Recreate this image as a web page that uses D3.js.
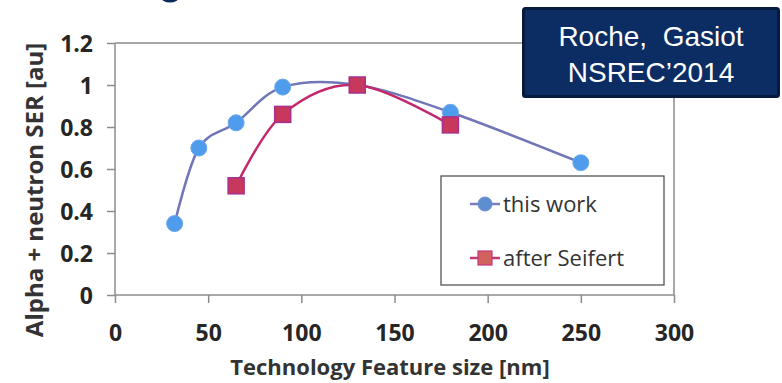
<!DOCTYPE html>
<html><head><meta charset="utf-8">
<script src="https://cdn.jsdelivr.net/npm/d3@7/dist/d3.min.js"></script>
<style>body{margin:0;background:#fff;}svg{display:block;}</style>
</head><body>
<svg id="c" width="782" height="383"></svg>
<script>
// ---- data ----
const thisWorkX = [32, 45, 65, 90, 130, 180, 250];
const thisWorkY = [0.34, 0.70, 0.82, 0.99, 1.00, 0.87, 0.63];
const seifertX = [65, 90, 130, 180];
const seifertY = [0.52, 0.86, 1.00, 0.81];
const xTicks = [0, 50, 100, 150, 200, 250, 300];
const yTicks = [0, 0.2, 0.4, 0.6, 0.8, 1, 1.2];
const seriesNames = ["this work", "after Seifert"];
const xTitle = "Technology Feature size [nm]";
const yTitle = "Alpha + neutron SER [au]";
const noteLines = ["Roche,  Gasiot", "NSREC\u20192014"];

const svg = d3.select("#c");
const L = 115, R = 674, T = 43, B = 295;
const x = d3.scaleLinear().domain([0, 300]).range([L, R]);
const y = d3.scaleLinear().domain([0, 1.2]).range([B, T]);
const axisColor = "#8c8c8c";
const tickFont = "'Open Sans', 'DejaVu Sans', sans-serif";

// cropped title fragment at top
svg.append("ellipse").attr("cx", 170).attr("cy", -3).attr("rx", 9).attr("ry", 5.5).attr("fill", "#0b2a5c");

// plot frame (top + right)
svg.append("path").attr("d", `M${L},${T}H${R}V${B}`).attr("fill", "none").attr("stroke", axisColor).attr("stroke-width", 1.5);

// axes
const xAxis = d3.axisBottom(x).tickValues(xTicks).tickSize(8).tickFormat(d3.format("d"));
const gx = svg.append("g").attr("transform", `translate(0,${B})`).call(xAxis);
const yAxis = d3.axisLeft(y).tickValues(yTicks).tickSize(8).tickFormat(d => d === 0 ? "0" : (d === 1 ? "1" : d3.format(".1f")(d)));
const gy = svg.append("g").attr("transform", `translate(${L},0)`).call(yAxis);
[gx, gy].forEach(g => {
  g.select(".domain").attr("stroke", axisColor).attr("stroke-width", 1.5);
  g.selectAll(".tick line").attr("stroke", axisColor).attr("stroke-width", 1.5);
  g.selectAll(".tick text").attr("fill", "#262626").attr("font-family", tickFont)
    .attr("font-weight", "bold").attr("font-size", 23);
});
gx.select(".domain").attr("d", `M${L},0H${R}`);
gy.select(".domain").attr("d", `M0,${T}V${B}`);
gx.selectAll(".tick text").attr("dy", null).attr("y", 46);
gy.selectAll(".tick text").attr("x", -22).attr("dy", "0.36em");

// axis titles
svg.append("text").attr("x", 390).attr("y", 375).attr("text-anchor", "middle")
  .attr("font-family", tickFont).attr("font-weight", "bold").attr("font-size", 22).attr("fill", "#333")
  .text(xTitle);
svg.append("text").attr("transform", "translate(43,190) rotate(-90)").attr("text-anchor", "middle")
  .attr("font-family", tickFont).attr("font-weight", "bold").attr("font-size", 24).attr("fill", "#333")
  .text(yTitle);

// series
const line = d3.line().x(d => x(d[0])).y(d => y(d[1])).curve(d3.curveCardinal.tension(0));
const blueData = thisWorkX.map((v, i) => [v, thisWorkY[i]]);
const redData = seifertX.map((v, i) => [v, seifertY[i]]);
svg.append("path").attr("d", line(blueData)).attr("fill", "none").attr("stroke", "#7176b8").attr("stroke-width", 2.5);
svg.append("path").attr("d", line(redData)).attr("fill", "none").attr("stroke", "#c3286c").attr("stroke-width", 2.5);

svg.append("g").selectAll("circle").data(blueData).join("circle")
  .attr("cx", d => x(d[0])).attr("cy", d => y(d[1])).attr("r", 8)
  .attr("fill", "#4f9bec").attr("stroke", "#6aa8ee").attr("stroke-width", 1);
const s = 16;
svg.append("g").selectAll("rect").data(redData).join("rect")
  .attr("x", d => x(d[0]) - s / 2).attr("y", d => y(d[1]) - s / 2).attr("width", s).attr("height", s)
  .attr("fill", "#c8385c").attr("stroke", "#a8308c").attr("stroke-width", 1.5);

// legend
const lg = svg.append("g");
lg.append("rect").attr("x", 441).attr("y", 176).attr("width", 223).attr("height", 109)
  .attr("fill", "#fff").attr("stroke", "#555").attr("stroke-width", 1.3);
const legFont = "'Open Sans', 'DejaVu Sans', sans-serif";
const ly = [204, 258];
lg.append("line").attr("x1", 470).attr("x2", 500).attr("y1", ly[0]).attr("y2", ly[0]).attr("stroke", "#7a7cc0").attr("stroke-width", 2.5);
lg.append("circle").attr("cx", 485).attr("cy", ly[0]).attr("r", 7).attr("fill", "#5b8fd0").attr("stroke", "#6f8fd0");
lg.append("line").attr("x1", 470).attr("x2", 500).attr("y1", ly[1]).attr("y2", ly[1]).attr("stroke", "#c23a78").attr("stroke-width", 2.5);
lg.append("rect").attr("x", 478).attr("y", ly[1] - 7).attr("width", 14).attr("height", 14).attr("fill", "#d2625e").attr("stroke", "#c03a80").attr("stroke-width", 1.2);
seriesNames.forEach((n, i) => {
  lg.append("text").attr("x", 503).attr("y", ly[i]).attr("dy", "0.35em")
    .attr("font-family", legFont).attr("font-size", 22).attr("fill", "#333").text(n);
});

// note box
const nb = svg.append("g");
nb.append("rect").attr("x", 523.5).attr("y", 8.5).attr("width", 255).attr("height", 88).attr("rx", 2)
  .attr("fill", "#0b2d63").attr("stroke", "#061a3e").attr("stroke-width", 3);
noteLines.forEach((t, i) => {
  nb.append("text").attr("x", 651).attr("y", 46 + i * 36).attr("text-anchor", "middle")
    .attr("xml:space", "preserve").style("white-space", "pre")
    .attr("font-family", "'Liberation Sans', Arial, sans-serif").attr("font-size", 28).attr("fill", "#fff").text(t);
});
</script>
</body></html>
